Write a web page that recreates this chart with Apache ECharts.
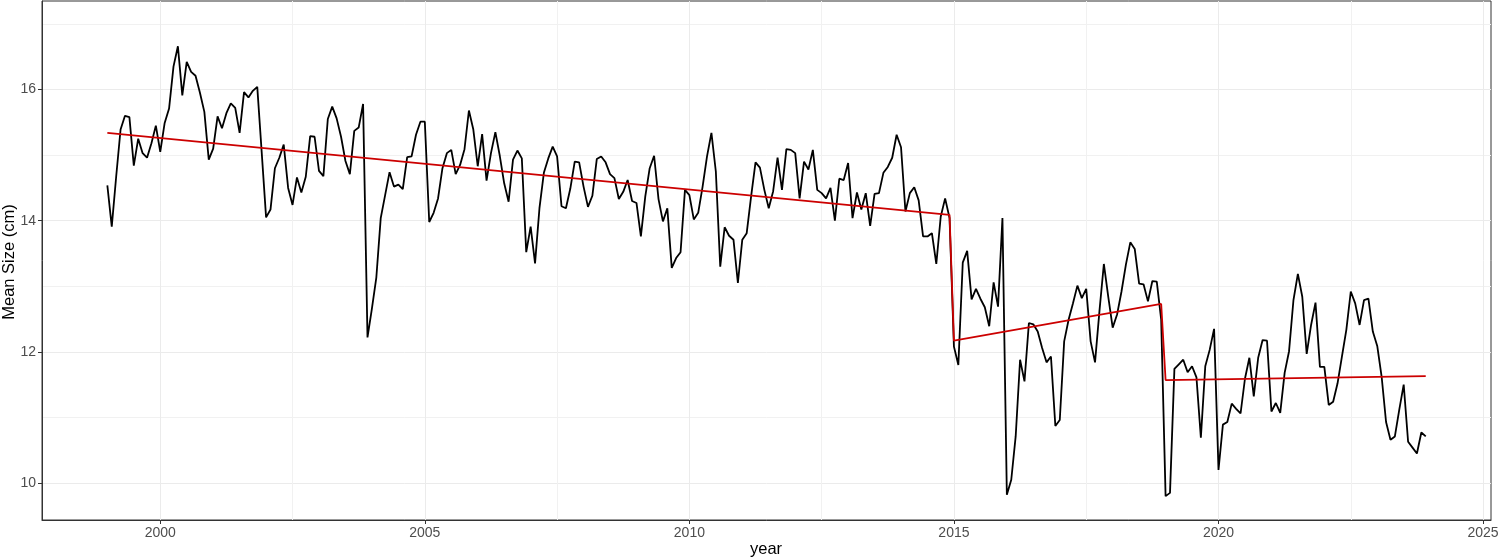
<!DOCTYPE html>
<html>
<head>
<meta charset="utf-8">
<script src="https://cdn.jsdelivr.net/npm/echarts@6/dist/echarts.min.js"></script>
<style>
html,body{margin:0;padding:0;background:#fff;}
#chart{width:1500px;height:560px;}
</style>
</head>
<body>
<div id="chart"></div>
<script>
// Monthly series starting January 1999
const startYear = 1999;
const meanSize = [
  14.54, 13.91, 14.67, 15.39, 15.60, 15.58, 14.84, 15.25, 15.03, 14.96, 15.18, 15.45,
  15.05, 15.49, 15.71, 16.35, 16.66, 15.91, 16.42, 16.27, 16.21, 15.95, 15.66, 14.93,
  15.10, 15.59, 15.41, 15.64, 15.79, 15.72, 15.34, 15.96, 15.88, 15.98, 16.04, 15.05,
  14.05, 14.17, 14.80, 14.96, 15.16, 14.50, 14.24, 14.66, 14.43, 14.67, 15.29, 15.28,
  14.76, 14.68, 15.55, 15.74, 15.56, 15.28, 14.91, 14.71, 15.37, 15.42, 15.78, 12.22,
  12.66, 13.13, 14.04, 14.39, 14.74, 14.52, 14.55, 14.48, 14.97, 14.98, 15.31, 15.51,
  15.51, 13.98, 14.12, 14.34, 14.80, 15.03, 15.08, 14.71, 14.85, 15.09, 15.68, 15.39,
  14.83, 15.32, 14.61, 15.03, 15.35, 14.99, 14.57, 14.29, 14.93, 15.07, 14.95, 13.52,
  13.91, 13.35, 14.19, 14.73, 14.95, 15.13, 14.98, 14.22, 14.19, 14.49, 14.90, 14.89,
  14.52, 14.21, 14.38, 14.94, 14.98, 14.89, 14.71, 14.65, 14.33, 14.44, 14.62, 14.30,
  14.27, 13.76, 14.37, 14.80, 14.99, 14.33, 13.99, 14.19, 13.28, 13.43, 13.52, 14.47,
  14.39, 14.02, 14.12, 14.52, 14.98, 15.34, 14.75, 13.30, 13.90, 13.77, 13.71, 13.05,
  13.71, 13.81, 14.37, 14.89, 14.81, 14.47, 14.19, 14.45, 14.96, 14.47, 15.09, 15.08,
  15.03, 14.34, 14.90, 14.78, 15.08, 14.47, 14.42, 14.34, 14.50, 14.00, 14.64, 14.62,
  14.88, 14.04, 14.43, 14.17, 14.42, 13.92, 14.41, 14.42, 14.73, 14.82, 14.96, 15.31,
  15.12, 14.14, 14.42, 14.51, 14.31, 13.76, 13.76, 13.81, 13.34, 14.06, 14.34, 14.04,
  12.08, 11.80, 13.36, 13.54, 12.80, 12.96, 12.81, 12.68, 12.39, 13.06, 12.69, 14.04,
  9.82, 10.05, 10.71, 11.88, 11.55, 12.44, 12.42, 12.31, 12.06, 11.84, 11.93, 10.87,
  10.96, 12.16, 12.49, 12.74, 13.01, 12.82, 12.96, 12.16, 11.84, 12.62, 13.34, 12.84,
  12.37, 12.57, 12.92, 13.33, 13.67, 13.57, 13.04, 13.03, 12.77, 13.08, 13.07, 12.49,
  9.80, 9.85, 11.74, 11.81, 11.88, 11.69, 11.78, 11.61, 10.69, 11.78, 12.03, 12.35,
  10.20, 10.89, 10.93, 11.21, 11.13, 11.06, 11.59, 11.91, 11.32, 11.91, 12.18, 12.17,
  11.09, 11.22, 11.07, 11.68, 12.01, 12.79, 13.19, 12.84, 11.97, 12.41, 12.75, 11.77,
  11.77, 11.19, 11.24, 11.52, 11.93, 12.34, 12.92, 12.74, 12.41, 12.79, 12.81, 12.31,
  12.09, 11.62, 10.93, 10.66, 10.71, 11.12, 11.50, 10.63, 10.54, 10.45, 10.77, 10.71
];
// Segmented (piecewise) fit: endpoints of each segment
const fitYears  = [1999.0, 2014 + 11/12, 2015.0, 2018 + 11/12, 2019.0, 2023 + 11/12];
const fitValues = [15.34, 14.09, 12.17, 12.73, 11.57, 11.63];
const xMajorTicks = [2000, 2005, 2010, 2015, 2020, 2025];
const xMinorTicks = [2002.5, 2007.5, 2012.5, 2017.5, 2022.5];
const yMajorTicks = [10, 12, 14, 16];
const yMinorTicks = [11, 13, 15, 17];
const xTitle = 'year';
const yTitle = 'Mean Size (cm)';

const seriesData = meanSize.map((v, i) => [startYear + i / 12, v]);
const fitData = [];
for (let k = 0; k < fitYears.length; k += 2) {
  fitData.push([fitYears[k], fitValues[k]]);
  fitData.push([fitYears[k + 1], fitValues[k + 1]]);
}

const FONT = '"Liberation Sans", Arial, Helvetica, sans-serif';
const chart = echarts.init(document.getElementById('chart'), null, {renderer: 'canvas'});
chart.setOption({
  animation: false,
  backgroundColor: '#ffffff',
  grid: {
    left: 42, top: 1, right: 9, bottom: 40,
    containLabel: false, outerBoundsMode: 'none',
    show: true, borderColor: '#333333', borderWidth: 1, backgroundColor: 'transparent'
  },
  graphic: [
    {type: 'text', x: 766, y: 549, silent: true,
      style: {text: xTitle, fill: '#000', font: '16.5px ' + FONT, align: 'center', verticalAlign: 'middle'}},
    {type: 'text', x: 9, y: 262, rotation: Math.PI / 2, silent: true,
      style: {text: yTitle, fill: '#000', font: '16.5px ' + FONT, align: 'center', verticalAlign: 'middle'}}
  ],
  xAxis: [
    {
      type: 'value', min: 1997.765, max: 2025.15, position: 'bottom',
      axisLine: {show: true, onZero: false, lineStyle: {color: '#333333', width: 1}},
      axisTick: {show: true, length: 4, customValues: xMajorTicks, lineStyle: {color: '#333333'}},
      axisLabel: {customValues: xMajorTicks, color: '#4d4d4d', fontSize: 14, fontFamily: FONT, margin: 6,
        formatter: v => String(Math.round(v))},
      splitLine: {show: true, lineStyle: {color: '#ebebeb', width: 1}}
    },
    {
      type: 'value', min: 1997.765, max: 2025.15, position: 'top',
      axisLine: {show: false}, axisTick: {show: false, customValues: xMinorTicks},
      axisLabel: {show: false, customValues: xMinorTicks},
      splitLine: {show: true, lineStyle: {color: '#f1f1f1', width: 1}}
    }
  ],
  yAxis: [
    {
      type: 'value', min: 9.436, max: 17.35, position: 'left',
      axisLine: {show: true, onZero: false, lineStyle: {color: '#333333', width: 1}},
      axisTick: {show: true, length: 4, customValues: yMajorTicks, lineStyle: {color: '#333333'}},
      axisLabel: {customValues: yMajorTicks, color: '#4d4d4d', fontSize: 14, fontFamily: FONT, margin: 6},
      splitLine: {show: true, lineStyle: {color: '#ebebeb', width: 1}}
    },
    {
      type: 'value', min: 9.436, max: 17.35, position: 'right',
      axisLine: {show: false}, axisTick: {show: false, customValues: yMinorTicks},
      axisLabel: {show: false, customValues: yMinorTicks},
      splitLine: {show: true, lineStyle: {color: '#f1f1f1', width: 1}}
    }
  ],
  series: [
    {
      type: 'line', xAxisIndex: 0, yAxisIndex: 0, data: seriesData,
      showSymbol: false, symbol: 'none', smooth: false,
      lineStyle: {color: '#000000', width: 1.8}, z: 3
    },
    {
      type: 'line', xAxisIndex: 0, yAxisIndex: 0, data: fitData,
      showSymbol: false, symbol: 'none', smooth: false,
      lineStyle: {color: '#cc0000', width: 1.8}, z: 4
    }
  ]
});
</script>
</body>
</html>
